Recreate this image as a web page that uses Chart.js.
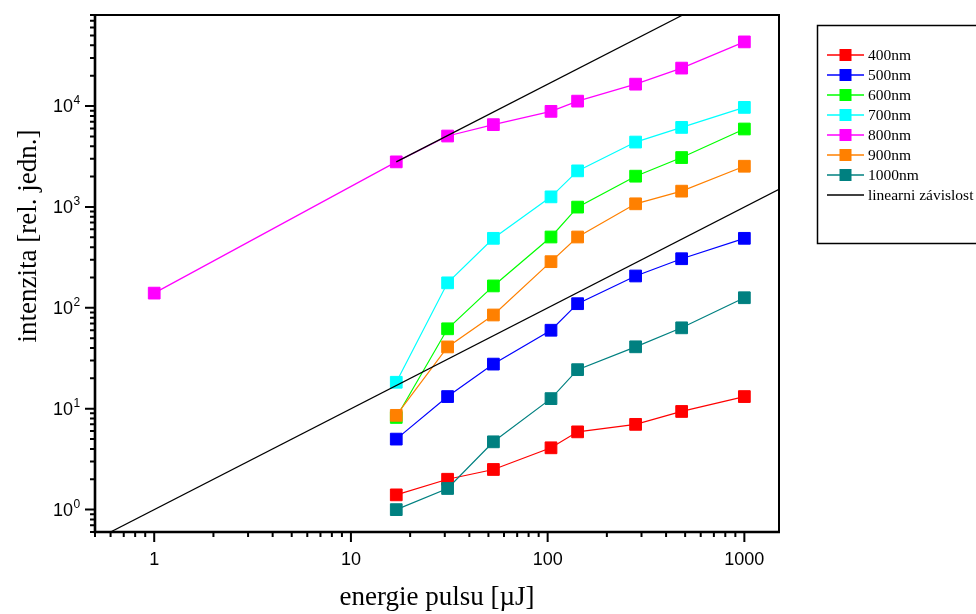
<!DOCTYPE html>
<html>
<head>
<meta charset="utf-8">
<script src="https://cdn.jsdelivr.net/npm/chart.js@4.4.1/dist/chart.umd.min.js"></script>
<style>
  html, body { margin: 0; padding: 0; background: #fff; }
  #wrap { width: 976px; height: 614px; position: relative; }
</style>
</head>
<body>
<div id="wrap"><canvas id="chart"></canvas></div>
<script>
// energie pulsu [uJ]
const energy = [17, 31, 53, 104, 142, 280, 480, 1000];
const energy800 = [1, 17, 31, 53, 104, 142, 280, 480, 1000];

// intenzita [rel. jedn.]
const i400 = [1.4, 2.0, 2.5, 4.1, 5.9, 7.0, 9.4, 13.2];
const i500 = [5.0, 13.2, 27.7, 60, 110, 207, 307, 489];
const i600 = [8.2, 62, 165, 504, 997, 2020, 3090, 5930];
const i700 = [18.3, 177, 489, 1260, 2280, 4400, 6150, 9710];
const i800 = [140, 2800, 5050, 6550, 8870, 11200, 16500, 23800, 43300];
const i900 = [8.6, 41, 85, 287, 504, 1075, 1435, 2535];
const i1000 = [1.0, 1.62, 4.7, 12.6, 24.4, 41.1, 63.4, 126];

const seriesNames = ['400nm', '500nm', '600nm', '700nm', '800nm', '900nm', '1000nm'];
const seriesColors = ['#ff0000', '#0000ff', '#00ff00', '#00ffff', '#ff00ff', '#ff8000', '#008080'];
const seriesX = [energy, energy, energy, energy, energy800, energy, energy];
const seriesY = [i400, i500, i600, i700, i800, i900, i1000];

// linearni zavislost (two reference lines, slope 1)
const linX1 = [0.5, 1500];
const linY1 = [0.5, 1500];
const linX2 = [17, 1000];
const linY2 = [2800, 164700];

const xMajorTicks = [1, 10, 100, 1000];
const xTickLabels = ['1', '10', '100', '1000'];
const yMajorTicks = [1, 10, 100, 1000, 10000];
const yTickBase = '10';
const yTickExp = ['0', '1', '2', '3', '4'];

function minorTicks(lo, hi) {
  const out = [];
  for (let d = 0.1; d <= hi; d *= 10) {
    for (let m = 2; m <= 9; m++) {
      const v = +(m * d).toPrecision(3);
      if (v >= lo - 1e-9 && v <= hi + 1e-9) out.push(v);
    }
  }
  return out;
}

const pts = (xs, ys) => xs.map((x, i) => ({ x, y: ys[i] }));

const datasets = seriesNames.map((name, i) => ({
  label: name,
  data: pts(seriesX[i], seriesY[i]),
  showLine: true,
  borderColor: seriesColors[i],
  backgroundColor: seriesColors[i],
  borderWidth: 1.2,
  pointStyle: 'rect',
  pointRadius: 8.3,
  pointBorderWidth: 1,
  pointBorderColor: seriesColors[i],
  pointBackgroundColor: seriesColors[i],
  order: -i,
}));
datasets.push({
  label: 'linearni závislost',
  data: pts(linX1, linY1),
  showLine: true, borderColor: '#000', borderWidth: 1.2, pointRadius: 0, order: -10,
});
datasets.push({
  label: '',
  data: pts(linX2, linY2),
  showLine: true, borderColor: '#000', borderWidth: 1.2, pointRadius: 0, order: -11,
});

const frame = {
  id: 'frame',
  afterDatasetsDraw(chart) {
    const { ctx, chartArea: a, scales: { x, y } } = chart;
    ctx.save();
    ctx.strokeStyle = '#000';
    // ticks
    ctx.lineWidth = 2;
    ctx.beginPath();
    xMajorTicks.forEach(v => { const p = x.getPixelForValue(v); ctx.moveTo(p, a.bottom); ctx.lineTo(p, a.bottom + 10); });
    minorTicks(0.5, 1500).forEach(v => { const p = x.getPixelForValue(v); ctx.moveTo(p, a.bottom); ctx.lineTo(p, a.bottom + 5); });
    yMajorTicks.forEach(v => { const p = y.getPixelForValue(v); ctx.moveTo(a.left, p); ctx.lineTo(a.left - 10, p); });
    minorTicks(0.6, 80000).forEach(v => { const p = y.getPixelForValue(v); ctx.moveTo(a.left, p); ctx.lineTo(a.left - 5, p); });
    ctx.stroke();
    // box
    ctx.lineWidth = 2;
    ctx.beginPath();
    ctx.moveTo(a.left, a.top); ctx.lineTo(a.right, a.top); ctx.lineTo(a.right, a.bottom);
    ctx.stroke();
    ctx.lineWidth = 2.6;
    ctx.beginPath();
    ctx.moveTo(a.left, a.top - 1); ctx.lineTo(a.left, a.bottom); ctx.lineTo(a.right + 1, a.bottom);
    ctx.stroke();

    // y tick labels: 10 with superscript exponent
    ctx.fillStyle = '#000';
    ctx.textBaseline = 'middle';
    yMajorTicks.forEach((v, i) => {
      const p = y.getPixelForValue(v);
      ctx.font = '18px "Liberation Sans", Arial, sans-serif';
      ctx.textAlign = 'right';
      ctx.fillText(yTickBase, 73, p + 1);
      ctx.font = '12px "Liberation Sans", Arial, sans-serif';
      ctx.textAlign = 'left';
      ctx.fillText(yTickExp[i], 73.5, p - 5);
    });
    ctx.restore();
  },
  afterDraw(chart) {
    const { ctx, chartArea: a } = chart;
    ctx.save();
    ctx.fillStyle = '#000';
    ctx.font = '27px "Liberation Serif", "Times New Roman", serif';
    ctx.textAlign = 'center';
    ctx.textBaseline = 'middle';
    ctx.fillText('energie pulsu [µJ]', (a.left + a.right) / 2, 598);
    ctx.translate(29, 236);
    ctx.rotate(-Math.PI / 2);
    ctx.fillText('intenzita [rel. jedn.]', 0, 0);
    ctx.restore();

    // legend
    ctx.save();
    ctx.strokeStyle = '#000';
    ctx.lineWidth = 1.5;
    ctx.strokeRect(817.5, 25.5, 170, 218);
    ctx.font = '15.5px "Liberation Serif", "Times New Roman", serif';
    ctx.textBaseline = 'middle';
    ctx.textAlign = 'left';
    chart.data.datasets.filter(d => d.label).forEach((d, i) => {
      const yy = 55 + i * 20;
      ctx.strokeStyle = d.borderColor;
      ctx.lineWidth = 1.5;
      ctx.beginPath(); ctx.moveTo(827, yy); ctx.lineTo(864, yy); ctx.stroke();
      if (d.pointRadius) {
        ctx.fillStyle = d.backgroundColor;
        ctx.fillRect(839.5, yy - 6, 12, 12);
      }
      ctx.fillStyle = '#000';
      ctx.fillText(d.label, 868, yy + 1);
    });
    ctx.restore();
  }
};

new Chart(document.getElementById('chart'), {
  type: 'scatter',
  data: { datasets },
  options: {
    responsive: true,
    maintainAspectRatio: false,
    animation: false,
    events: [],
    layout: { padding: { top: 15, right: 197, left: 0, bottom: 0 } },
    plugins: { legend: { display: false }, tooltip: { enabled: false } },
    scales: {
      x: {
        type: 'logarithmic', position: 'bottom', min: 0.5, max: 1500,
        grid: { display: false, drawTicks: false }, border: { display: false },
        afterBuildTicks: s => { s.ticks = xMajorTicks.map(v => ({ value: v })); },
        afterFit: s => { s.height = 82; s.paddingLeft = 0; s.paddingRight = 0; },
        ticks: {
          autoSkip: false, maxRotation: 0, padding: 17, color: '#000',
          font: { family: '"Liberation Sans", Arial, sans-serif', size: 18 },
          callback: (v, i) => xTickLabels[i],
        },
      },
      y: {
        type: 'logarithmic', position: 'left', min: 0.6, max: 80000,
        grid: { display: false, drawTicks: false }, border: { display: false },
        afterBuildTicks: s => { s.ticks = yMajorTicks.map(v => ({ value: v })); },
        afterFit: s => { s.width = 95; s.paddingTop = 0; s.paddingBottom = 0; },
        ticks: { display: false },
      },
    },
  },
  plugins: [frame],
});
</script>
</body>
</html>
